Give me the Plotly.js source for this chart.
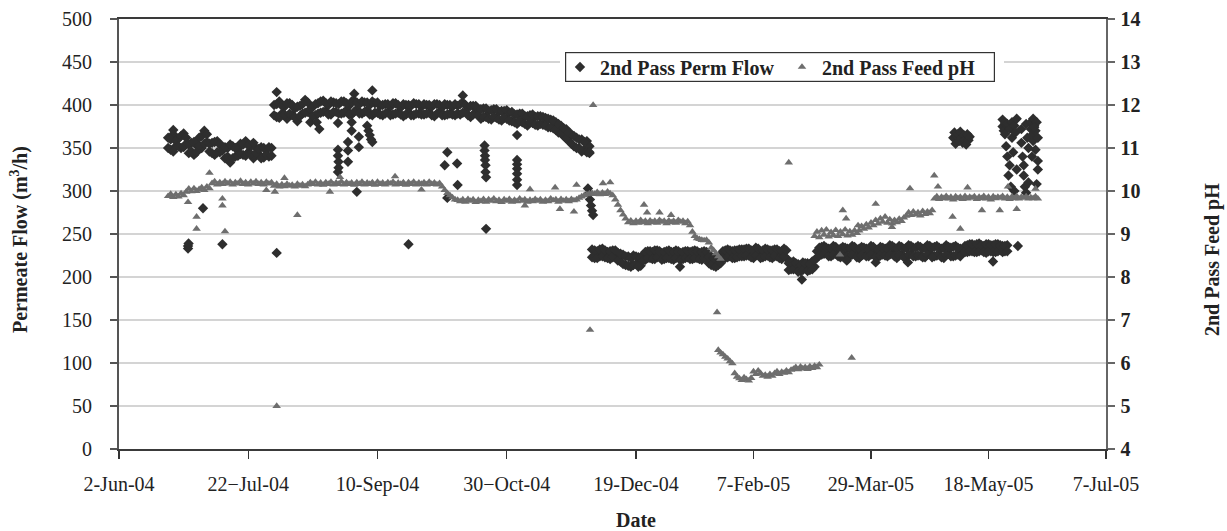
<!DOCTYPE html>
<html><head><meta charset="utf-8">
<script src="https://cdn.plot.ly/plotly-3.0.1.min.js"></script>
<style>html,body{margin:0;padding:0;background:#fff}#chart{width:1227px;height:531px}</style>
</head><body><div id="chart"></div>
<script>
// ---- tick labels (date axis) ----
const tickDates = ['2004-06-02','2004-07-22','2004-09-10','2004-10-30','2004-12-19','2005-02-07','2005-03-29','2005-05-18','2005-07-07'];
const tickLabels = ['2-Jun-04','22\u2212Jul-04','10-Sep-04','30\u2212Oct-04','19-Dec-04','7-Feb-05','29-Mar-05','18-May-05','7-Jul-05'];

// ---- data: day offsets from 2-Jun-04 and values ----
// 2nd Pass Perm Flow (m3/h): two readings per day
const flowDay = [
19,20,21,22,23,24,25,26,27,28,29,30,31,32,33,34,35,36,37,38,39,40,41,42,43,44,45,46,47,48,49,50,51,52,53,54,55,56,57,58,59,
60,61,62,63,64,65,66,67,68,69,70,71,72,73,74,75,
76,77,78,79,80,81,82,83,84,85,86,87,88,89,90,91,92,93,94,95,96,97,98,99,100,
101,102,103,104,105,106,107,108,109,110,111,112,113,114,115,116,117,118,119,120,121,122,123,124,125,126,127,128,129,130,131,132,133,134,135,136,137,138,139,
140,141,142,143,144,145,146,147,148,149,150,151,152,
153,154,155,156,157,158,159,160,161,162,163,164,165,166,167,168,169,
170,171,172,173,174,175,176,177,178,179,180,181,182,
183,184,185,186,187,188,189,190,191,192,193,194,195,196,197,198,199,200,201,202,203,204,
205,206,207,208,209,210,211,212,213,214,215,216,217,218,219,220,221,222,223,224,225,226,227,228,229,230,
231,232,233,234,235,236,237,238,239,240,241,242,243,244,
245,246,247,248,249,250,251,252,253,254,255,256,257,258,259,260,261,262,263,264,
265,266,267,268,269,270,271,272,273,274,275,276,277,
278,279,280,281,282,283,284,285,286,287,288,289,290,291,292,293,294,295,296,297,298,299,300,301,302,303,304,305,306,
307,308,309,310,311,312,313,314,315,316,317,318,319,320,321,322,323,324,325,326,327,328,329,330,331,332,333,334,335,336,337,338,
340,341,342,343,344,345,346,347,348,349,350,351,352,353,354,355,356,357,358];
const flowValA = [
362,348,366,352,361,350,367,355,344,356,342,353,362,350,370,357,346,356,342,358,345,352,338,350,333,352,340,349,355,342,358,345,352,338,350,343,351,339,348,340,350,
400,386,404,390,398,384,402,388,396,381,399,390,406,392,380,398,
388,402,391,405,393,400,389,403,392,401,390,404,394,399,389,405,395,401,390,403,394,400,388,402,391,
399,388,401,392,398,389,402,391,397,387,400,392,399,388,401,390,398,389,400,391,398,387,401,392,397,388,400,390,398,388,399,389,403,392,397,386,399,390,395,
384,396,386,393,383,395,385,392,382,393,384,391,381,
389,378,390,380,387,376,388,379,386,376,387,377,385,374,383,373,380,
368,376,364,372,358,366,352,362,350,360,348,358,352,
232,222,230,224,233,223,229,221,231,224,228,218,226,214,224,212,225,215,223,213,226,220,
230,222,229,221,231,223,228,221,230,222,229,220,231,222,228,221,230,223,229,221,231,222,228,220,230,222,
216,224,213,222,214,225,230,222,232,224,230,222,231,224,
232,224,233,225,231,222,234,226,230,223,233,225,231,222,232,224,230,221,233,222,
216,209,218,210,215,207,217,210,216,208,218,212,222,
234,226,236,228,233,224,236,227,232,223,235,226,233,224,236,227,232,222,235,226,233,224,236,227,232,223,235,226,233,
224,237,227,234,222,236,226,233,223,237,227,234,224,236,225,233,223,237,228,234,224,236,226,233,222,237,227,234,224,236,226,233,
236,229,238,230,237,229,239,231,236,228,238,230,237,229,238,231,236,230,237];
const flowValB = [
350,360,346,358,352,364,351,362,354,346,357,345,353,364,355,366,355,344,357,345,354,347,351,340,354,338,350,341,343,354,341,353,343,356,344,349,338,350,342,351,341,
388,401,385,399,389,402,390,400,386,398,387,401,391,403,395,387,
401,390,404,392,402,389,404,392,402,390,404,391,402,389,404,392,403,390,404,392,403,389,404,391,403,
389,400,390,401,388,402,390,400,389,401,389,400,388,402,390,401,389,401,390,400,388,401,390,400,388,401,389,400,389,401,390,401,391,400,388,399,389,399,388,
395,386,396,384,394,386,395,383,393,385,394,382,392,
380,389,381,390,378,387,380,389,377,387,378,386,376,384,374,382,371,
378,367,373,361,368,355,364,350,360,346,357,345,344,
223,231,222,232,224,231,222,230,223,231,219,227,215,224,213,222,214,224,212,222,219,229,
222,230,221,231,223,230,220,229,222,231,221,229,222,230,220,229,222,230,221,230,222,230,221,229,222,229,
223,214,222,212,223,216,222,231,223,231,222,231,223,232,
224,232,225,233,223,231,225,233,222,231,224,232,223,231,224,232,222,230,224,231,
208,217,209,216,206,214,208,216,207,215,209,220,230,
225,235,227,234,224,233,226,235,224,233,225,234,224,233,226,235,223,233,225,234,224,232,226,235,223,232,225,234,225,
233,226,236,224,233,225,235,223,234,226,236,224,234,225,235,223,234,226,236,224,235,225,234,223,234,226,235,224,235,225,234,224,
229,237,230,238,229,238,230,237,229,238,230,237,229,238,230,237,229,236,230];
// Perm Flow: isolated readings off the main bands
const flowOutDay = [21,26.7,26.7,26.9,32.5,40,61,61,
84.7,84.7,84.7,84.9,84.9,84.7,88.6,88.6,88.6,90,90,92.8,92.8,96,96.5,97,97.5,98,92,91,98,76.5,77.5,
112,126,127,127,130.8,131,133,
141.4,141.4,141.6,141.6,141.8,141.8,142,142,
154,154,154,154,154,154,154,
181.4,181.8,182.2,182.6,183,183.4,182,
218.7,270.6,289.7,302,315.7,326,351.9,362.5,
335,335.5,336,336.5,337,337.5,338,338.5,339,339.5,340,340.5,341,341.5,342,
356,356,356.5,357,357,357.5,358,358,358.5,359,359,359.5,360,360,360.5,361,361,361.5,362,362,
364,364,364.5,365,365,365.5,366,366,366.5,367,367,
368,368,368.5,369,369,369.5,370,370,370.5,371,371,371,370.5,369.5,368.5];
const flowOutVal = [371,233,236,239,280,238,228,415,
379,348,341,334,327,322,357,347,334,380,370,363,351,376,370,365,360,357,299,413,417,380,372,
238,330,345,292,332,307,411,
353,347,341,336,330,322,316,256,
365,336,331,326,320,313,307,
303,297,290,283,277,272,345,
212,197,219,217,217,223,218,236,
362,368,355,364,366,358,369,361,356,365,360,354,366,359,363,
375,383,370,366,379,352,378,340,318,372,330,305,380,362,345,300,376,368,325,384,
372,356,340,330,318,305,298,378,362,350,310,
372,380,365,384,358,376,370,348,380,362,335,325,308,374,340];

// 2nd Pass Feed pH, daily readings
const phDay = [
19,20,21,22,23,24,25,
26,27,28,29,30,31,32,33,34,35,
36,37,38,39,40,41,42,43,44,45,46,47,48,49,50,51,52,53,54,55,56,57,58,59,
60,61,62,63,64,65,66,67,68,69,70,71,72,
73,74,75,76,77,78,79,80,81,82,83,84,85,86,87,88,89,90,91,92,93,94,95,96,97,98,99,100,101,102,103,104,105,106,107,108,109,110,111,112,113,114,115,116,117,118,119,120,121,122,123,124,
125,126,127,128,129,130,131,
132,133,134,135,136,137,138,139,140,141,142,143,144,145,146,147,148,149,150,151,152,153,154,155,156,157,158,159,160,161,162,163,164,165,166,167,168,169,170,171,172,173,174,175,176,177,
178,179,180,181,182,183,
184,185,186,187,188,189,190,191,
192,193,194,195,196,
197,198,199,200,201,202,203,204,205,206,207,208,209,210,211,212,213,214,215,216,217,218,219,220,221,222,223,
224,225,226,227,228,229,230,231,
232,233,234,235,236,
235,236,237,238,239,240,241,
242,243,244,245,246,247,248,249,
250,251,252,253,254,
255,256,257,258,
259,260,261,262,263,264,265,266,
267,268,269,270,271,272,273,274,275,276,277,278,
276,277,278,279,280,281,282,283,284,285,286,287,288,289,290,291,292,293,294,
295,296,297,298,299,300,301,302,303,304,305,306,
307,308,309,310,311,312,313,314,
315,316,317,318,319,320,321,322,323,324,325,326,
327,328,329,330,331,332,333,334,335,336,337,338,339,340,341,342,343,344,345,346,347,348,349,350,351,352,353,354,355,356,357,358,359,360,361,362,363,364,365,366,367,368,
369,370,371];
const phVal = [
9.88,9.93,9.86,9.92,9.87,9.94,9.9,
9.98,10.05,9.99,10.06,10.0,10.04,10.08,10.02,10.1,10.06,
10.18,10.22,10.15,10.2,10.16,10.22,10.17,10.21,10.15,10.2,10.17,10.23,10.16,10.2,10.15,10.21,10.17,10.22,10.16,10.2,10.15,10.21,10.17,10.2,
10.12,10.16,10.1,10.15,10.11,10.16,10.12,10.14,10.1,10.16,10.12,10.15,10.11,
10.15,10.2,10.16,10.21,10.15,10.19,10.14,10.2,10.16,10.21,
10.15,10.19,10.16,10.22,10.15,10.2,10.16,10.19,10.14,10.2,
10.16,10.21,10.15,10.19,10.16,10.2,10.14,10.21,10.16,10.19,
10.15,10.2,10.17,10.21,10.15,10.19,10.16,10.2,10.14,10.2,
10.16,10.21,10.15,10.19,10.16,10.2,10.15,10.21,10.16,10.19,
10.15,10.18,
10.1,10.02,9.95,9.9,9.85,9.8,9.79,
9.76,9.8,9.75,9.81,9.77,9.8,9.74,9.79,9.76,9.81,
9.75,9.8,9.77,9.82,9.76,9.79,9.74,9.8,9.77,9.81,
9.75,9.79,9.76,9.82,9.77,9.8,9.75,9.79,9.76,9.81,
9.77,9.8,9.75,9.79,9.76,9.82,9.78,9.8,9.75,9.81,
9.77,9.8,9.76,9.81,9.78,9.8,
9.84,9.87,9.9,9.92,9.94,9.95,
9.93,9.97,9.92,9.96,9.93,9.98,9.94,9.9,
9.8,9.68,9.55,9.45,9.36,
9.27,9.31,9.25,9.3,9.26,9.32,9.27,9.3,9.25,9.31,9.27,9.3,9.26,9.32,9.28,9.3,9.25,9.31,9.27,9.3,9.26,9.32,9.28,9.3,9.25,9.29,9.2,
9.05,8.95,8.9,8.88,8.86,8.85,8.86,8.8,
8.68,8.62,8.55,8.48,8.42,
6.3,6.24,6.2,6.14,6.1,6.04,5.99,
5.76,5.68,5.64,5.6,5.66,5.62,5.59,5.65,
5.8,5.74,5.82,5.76,5.7,
5.72,5.68,5.74,5.7,
5.76,5.8,5.74,5.79,5.77,5.82,5.78,5.84,
5.86,5.9,5.85,5.91,5.87,5.9,5.86,5.92,5.88,5.93,5.9,5.96,
8.95,9.05,8.92,9.08,8.98,9.1,8.94,9.04,8.97,9.09,8.95,9.05,8.99,9.1,8.96,9.06,8.98,9.08,9.02,
9.08,9.18,9.12,9.22,9.15,9.26,9.2,9.32,9.24,9.36,9.28,9.4,
9.26,9.34,9.24,9.32,9.27,9.35,9.3,9.38,
9.42,9.5,9.44,9.52,9.45,9.5,9.43,9.53,9.46,9.52,9.48,9.55,
9.82,9.87,9.81,9.86,9.83,9.88,9.82,9.86,9.8,9.87,
9.83,9.86,9.81,9.88,9.82,9.86,9.84,9.87,9.81,9.86,
9.83,9.88,9.82,9.86,9.8,9.87,9.83,9.86,9.84,9.88,
9.82,9.86,9.81,9.87,9.83,9.88,9.82,9.86,9.84,9.87,
9.82,9.85,
9.83,9.87,9.82];
// Feed pH: isolated readings
const phOutDay = [26.7,30,30,35,40,40,41,57,61,69,60.3,64,81.6,85.5,106.8,117,157,159,168.7,170.6,176,177,182.2,183.4,187.2,190,203.4,204.7,210,214.9,234.5,265,286.8,288,289.4,291.8,294.5,302,308.9,316.6,326.9,328.5,334.7,338,341.1,347.2,354.8,358.3,362,370];
const phOutVal = [9.74,9.4,9.12,10.42,9.82,9.66,9.06,10.02,5.0,9.44,9.98,10.3,9.98,10.32,10.34,10.03,9.66,10.04,10.08,9.58,9.52,10.14,6.77,12.0,10.18,10.2,9.68,9.5,9.5,9.44,7.18,10.66,8.52,9.55,9.36,6.12,9.2,9.7,9.16,10.06,10.36,10.1,9.4,9.12,10.08,9.55,9.55,10.1,9.58,10.05];

// ---- helpers ----
const T0 = Date.UTC(2004, 5, 2);
function toDate(d){ return new Date(T0 + Math.round(d*24)*3600000).toISOString().slice(0,16).replace('T',' '); }
const BREAK_DAY = 200; // 19-Dec-04: the printed axis changes scale here
function split(days, vals){
  const L = {x:[], y:[]}, R = {x:[], y:[]};
  days.forEach((d,i) => { const t = d < BREAK_DAY ? L : R; t.x.push(toDate(d)); t.y.push(vals[i]); });
  return [L, R];
}
const [fL, fR] = split(flowDay.concat(flowDay, flowOutDay), flowValA.concat(flowValB, flowOutVal));
const [pL, pR] = split(phDay.concat(phOutDay), phVal.concat(phOutVal));

const FONT = 'Liberation Serif, Times New Roman, serif';
const flowMarker = {symbol:'diamond', size:8, color:'#2e2e2e'};
const phMarker = {symbol:'triangle-up', size:7.5, color:'#6e6e6e'};
const data = [
  {type:'scatter', mode:'markers', name:'2nd Pass Perm Flow', x:fL.x, y:fL.y, xaxis:'x', yaxis:'y', marker:flowMarker, cliponaxis:false, legendgroup:'f'},
  {type:'scatter', mode:'markers', name:'2nd Pass Perm Flow', x:fR.x, y:fR.y, xaxis:'x2', yaxis:'y', marker:flowMarker, cliponaxis:false, legendgroup:'f', showlegend:false},
  {type:'scatter', mode:'markers', name:'2nd Pass Feed pH', x:pL.x, y:pL.y, xaxis:'x', yaxis:'y2', marker:phMarker, cliponaxis:false, legendgroup:'p'},
  {type:'scatter', mode:'markers', name:'2nd Pass Feed pH', x:pR.x, y:pR.y, xaxis:'x2', yaxis:'y2', marker:phMarker, cliponaxis:false, legendgroup:'p', showlegend:false}
];

const SPLIT = 0.5238;
const xCommon = {type:'date', showgrid:false, zeroline:false, showline:true, linecolor:'#3a3a3a', linewidth:1.8, mirror:true,
  ticks:'outside', ticklen:8, tickwidth:1.5, tickcolor:'#333', tickmode:'array', anchor:'y',
  tickfont:{family:FONT, size:20, color:'#222'}, ticklabelstandoff:8, fixedrange:true};
const layout = {
  width:1227, height:531,
  margin:{l:119, r:121, t:19, b:82},
  paper_bgcolor:'#fff', plot_bgcolor:'#fff',
  font:{family:FONT, color:'#222'},
  xaxis: Object.assign({}, xCommon, {domain:[0, SPLIT], range:[tickDates[0], tickDates[4]],
    tickvals:tickDates.slice(0,4), ticktext:tickLabels.slice(0,4)}),
  xaxis2: Object.assign({}, xCommon, {domain:[SPLIT, 1], range:[tickDates[4], tickDates[8]],
    tickvals:tickDates.slice(4), ticktext:tickLabels.slice(4)}),
  yaxis: {range:[0,500], tickmode:'linear', tick0:0, dtick:50, showgrid:true, gridcolor:'#d4d4d4', gridwidth:1.3,
    zeroline:false, showline:true, linecolor:'#555', linewidth:2, ticks:'outside', ticklen:7, tickwidth:1.5, tickcolor:'#555',
    anchor:'x', tickfont:{family:FONT, size:20, color:'#222'}, ticklabelstandoff:14, fixedrange:true},
  yaxis2: {range:[4,14], tickmode:'linear', tick0:4, dtick:1, overlaying:'y', side:'right', anchor:'x2',
    showgrid:false, zeroline:false, showline:true, linecolor:'#666', linewidth:1.5, ticks:'outside', ticklen:7, tickwidth:1.5, tickcolor:'#666',
    tickfont:{family:FONT, size:20, color:'#222', weight:700}, ticklabelstandoff:2, fixedrange:true},
  showlegend:true,
  legend:{orientation:'h', x:0.4468, y:0.8884, xanchor:'left', yanchor:'middle', bgcolor:'#fff',
    borderwidth:0, font:{family:FONT, size:20, weight:700, color:'#222'}, tracegroupgap:0,
    entrywidth:177, entrywidthmode:'pixels'},
  annotations:[
    {text:' ', xref:'paper', yref:'paper', x:0.6692, y:0.8884, xanchor:'center', yanchor:'middle', showarrow:false,
      width:428, height:28, borderpad:0, bordercolor:'#333', borderwidth:1.2, bgcolor:'rgba(0,0,0,0)'},
    {text:'Date', xref:'paper', yref:'paper', x:0.524, y:-0.165, xanchor:'center', yanchor:'middle', showarrow:false,
      font:{family:FONT, size:20, weight:700, color:'#222'}},
    {text:'Permeate Flow (m<sup>3</sup>/h)', xref:'paper', yref:'paper', x:-0.1013, y:0.486, textangle:-90, xanchor:'center', yanchor:'middle', showarrow:false,
      font:{family:FONT, size:20, weight:700, color:'#222'}},
    {text:'2nd Pass Feed pH', xref:'paper', yref:'paper', x:1.1074, y:0.4395, textangle:-90, xanchor:'center', yanchor:'middle', showarrow:false,
      font:{family:FONT, size:20, weight:700, color:'#222'}}
  ]
};
Plotly.newPlot('chart', data, layout, {staticPlot:true, displayModeBar:false});
</script>
</body></html>
